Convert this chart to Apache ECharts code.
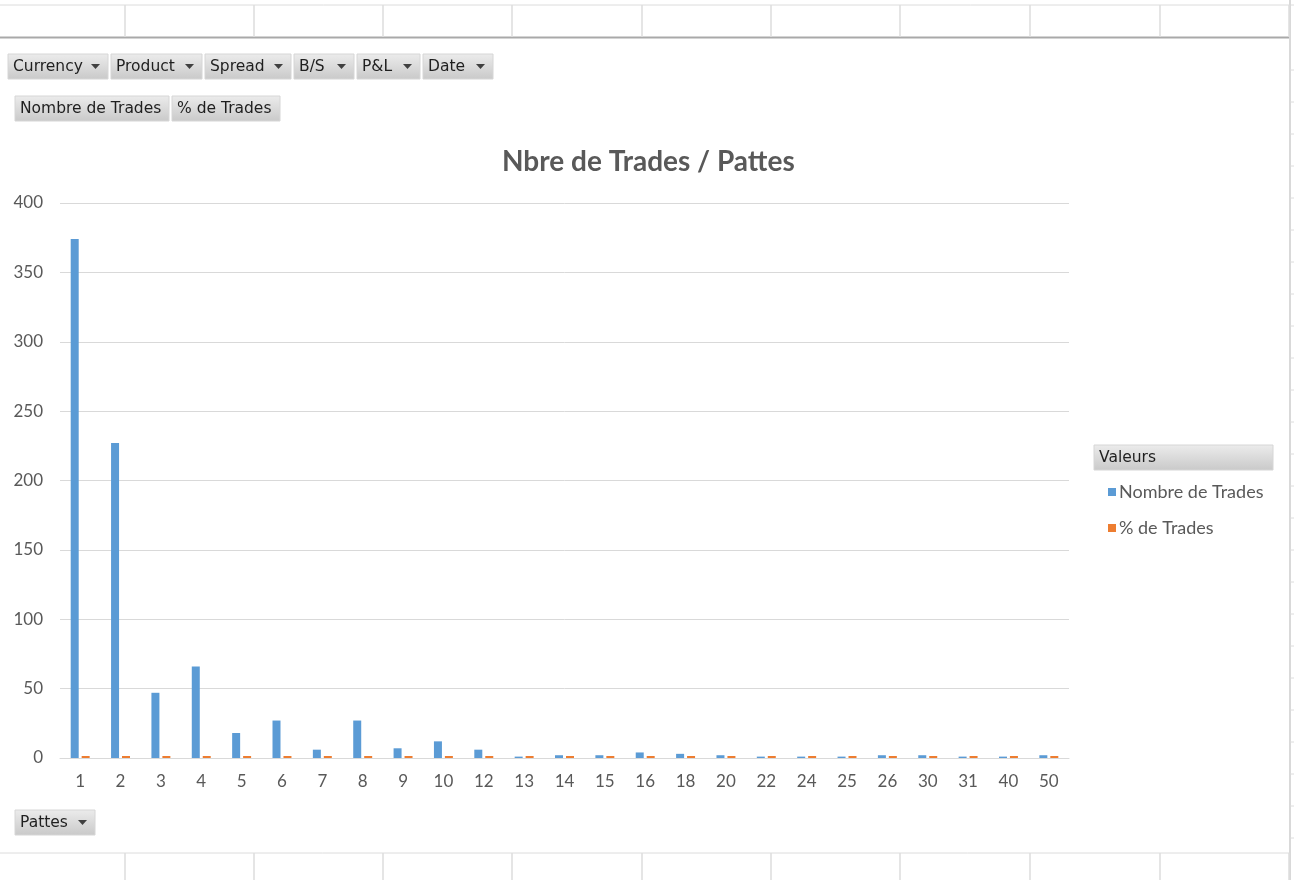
<!DOCTYPE html>
<html>
<head>
<meta charset="utf-8">
<title>Nbre de Trades / Pattes</title>
<script src="https://cdn.jsdelivr.net/npm/echarts@6/dist/echarts.min.js"></script>
<style>
  html, body { margin: 0; padding: 0; background: #fff; }
  #main { width: 1294px; height: 880px; }
</style>
</head>
<body>
<div id="main"></div>
<script>
// categories (Pattes) and values
var pattes = ['1', '2', '3', '4', '5', '6', '7', '8', '9', '10', '12', '13', '14', '15', '16', '18', '20', '22', '24', '25', '26', '30', '31', '40', '50'];
var nombreTrades = [374, 227, 47, 66, 18, 27, 6, 27, 7, 12, 6, 1, 2, 2, 4, 3, 2, 1, 1, 1, 2, 2, 1, 1, 2];
var pctTrades = [0.44, 0.27, 0.06, 0.08, 0.02, 0.03, 0.01, 0.03, 0.01, 0.01, 0.01, 0.001, 0.002, 0.002, 0.005, 0.004, 0.002, 0.001, 0.001, 0.001, 0.002, 0.002, 0.001, 0.001, 0.002];
var yTicks = [0, 50, 100, 150, 200, 250, 300, 350, 400];

var filterButtons = [
  { x: 8, y: 54, w: 100, label: 'Currency' },
  { x: 111, y: 54, w: 91, label: 'Product' },
  { x: 205, y: 54, w: 86, label: 'Spread' },
  { x: 294, y: 54, w: 60, label: 'B/S' },
  { x: 357, y: 54, w: 63, label: 'P&L' },
  { x: 423, y: 54, w: 70, label: 'Date' }
];
var valueButtons = [
  { x: 15, y: 96, w: 154, label: 'Nombre de Trades' },
  { x: 172, y: 96, w: 108, label: '% de Trades' }
];
var colX = [125, 254, 383, 512, 642, 771, 900, 1030, 1160, 1289];

var FONT = 'Lato, "Liberation Sans", sans-serif';
var BTN_FONT = '"DejaVu Sans", Tahoma, sans-serif';
var myChart = echarts.init(document.getElementById('main'));

function btnGradient() {
  return new echarts.graphic.LinearGradient(0, 0, 0, 1, [
    { offset: 0, color: '#ececec' },
    { offset: 1, color: '#c9c9c9' }
  ]);
}

// bouton de champ (comme dans le tableau croisé Excel)
function fieldButton(b, arrow) {
  var children = [
    {
      type: 'rect',
      shape: { x: 0, y: 0, width: b.w, height: 25 },
      style: { fill: btnGradient(), stroke: '#d6d6d6', lineWidth: 1 }
    },
    {
      type: 'text',
      x: 5, y: 13,
      style: { text: b.label, font: '15.5px ' + BTN_FONT, fill: '#1f1f1f', verticalAlign: 'middle' }
    }
  ];
  if (arrow) {
    children.push({
      type: 'polygon',
      shape: { points: [[b.w - 17, 10], [b.w - 8, 10], [b.w - 12.5, 15]] },
      style: { fill: '#404040' }
    });
  }
  return { type: 'group', x: b.x, y: b.y, children: children };
}

var graphics = [];
// grille de la feuille en haut et en bas
graphics.push({ type: 'line', shape: { x1: 0, y1: 5, x2: 1294, y2: 5 }, style: { stroke: '#dcdcdc', lineWidth: 1 } });
graphics.push({ type: 'line', shape: { x1: 0, y1: 37.5, x2: 1290, y2: 37.5 }, style: { stroke: '#a9a9a9', lineWidth: 2 } });
graphics.push({ type: 'line', shape: { x1: 0, y1: 853, x2: 1290, y2: 853 }, style: { stroke: '#dcdcdc', lineWidth: 1 } });
graphics.push({ type: 'line', shape: { x1: 1290, y1: 0, x2: 1290, y2: 880 }, style: { stroke: '#d9d9d9', lineWidth: 2 } });
colX.forEach(function (x) {
  graphics.push({ type: 'line', shape: { x1: x, y1: 5, x2: x, y2: 37 }, style: { stroke: '#dcdcdc', lineWidth: 1.5 } });
  graphics.push({ type: 'line', shape: { x1: x, y1: 853, x2: x, y2: 880 }, style: { stroke: '#dcdcdc', lineWidth: 1.5 } });
});
[70, 102, 134, 166, 198, 230, 262, 294, 326, 358, 390, 422, 454, 486, 518, 550, 582, 614, 646, 678, 710, 742, 774, 806, 838].forEach(function (y) {
  graphics.push({ type: 'line', shape: { x1: 1290, y1: y, x2: 1294, y2: y }, style: { stroke: '#dcdcdc', lineWidth: 1 } });
});

filterButtons.forEach(function (b) { graphics.push(fieldButton(b, true)); });
valueButtons.forEach(function (b) { graphics.push(fieldButton(b, false)); });
graphics.push(fieldButton({ x: 15, y: 810, w: 80, label: 'Pattes' }, true));

// en-tête de la légende
graphics.push({
  type: 'group', x: 1094, y: 445,
  children: [
    { type: 'rect', shape: { x: 0, y: 0, width: 179, height: 25 }, style: { fill: btnGradient(), stroke: '#d6d6d6' } },
    { type: 'text', x: 5, y: 13, style: { text: 'Valeurs', font: '15.5px ' + BTN_FONT, fill: '#1f1f1f', verticalAlign: 'middle' } }
  ]
});

var option = {
  backgroundColor: '#fff',
  textStyle: { fontFamily: FONT },
  title: {
    text: 'Nbre de Trades / Pattes',
    left: 497,
    top: 143,
    textStyle: { fontSize: 28, fontWeight: 'bold', color: '#595959', fontFamily: FONT }
  },
  legend: {
    orient: 'vertical',
    left: 1103,
    top: 478,
    icon: 'rect',
    itemWidth: 8,
    itemHeight: 8,
    itemGap: 18,
    textStyle: { fontSize: 18, color: '#595959', padding: [0, 0, 0, -2] },
    data: ['Nombre de Trades', '% de Trades']
  },
  grid: { left: 60, right: 225, top: 203, bottom: 122 },
  xAxis: {
    type: 'category',
    data: pattes,
    axisTick: { show: false },
    axisLine: { lineStyle: { color: '#d9d9d9', width: 1 } },
    axisLabel: { color: '#595959', fontSize: 17, margin: 15 }
  },
  yAxis: {
    type: 'value',
    min: yTicks[0],
    max: yTicks[yTicks.length - 1],
    interval: 50,
    axisLine: { show: false },
    axisTick: { show: false },
    splitLine: { lineStyle: { color: '#d9d9d9', width: 1 } },
    axisLabel: { color: '#595959', fontSize: 17, margin: 17 }
  },
  series: [
    {
      name: 'Nombre de Trades',
      type: 'bar',
      data: nombreTrades,
      barWidth: 8,
      barGap: '37%',
      itemStyle: { color: '#5B9BD5' }
    },
    {
      name: '% de Trades',
      type: 'bar',
      data: pctTrades,
      barWidth: 8,
      barMinHeight: 2,
      itemStyle: { color: '#ED7D31' }
    }
  ],
  graphic: graphics
};

myChart.setOption(option);
</script>
</body>
</html>
